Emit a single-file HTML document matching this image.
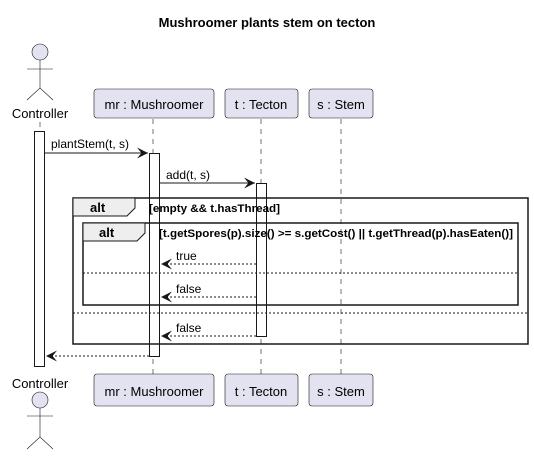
<!DOCTYPE html>
<html><head><style>body{margin:0;background:#fff}svg{display:block}</style></head><body>
<svg width="534" height="456" viewBox="0 0 534 456" xmlns="http://www.w3.org/2000/svg" font-family="Liberation Sans, sans-serif">
<defs><marker id="a" viewBox="0 0 10 10" refX="10" refY="5" markerWidth="11" markerHeight="11" markerUnits="userSpaceOnUse" orient="auto"><path d="M0,0 L10,5 L0,10 L4,5 Z" fill="#181818"/></marker></defs>
<text x="267" y="27" text-anchor="middle" font-size="13" font-weight="bold">Mushroomer plants stem on tecton</text>
<g stroke="#181818" stroke-width="0.6" stroke-dasharray="5,5">
<line x1="40" y1="122" x2="40" y2="372"/><line x1="153" y1="119" x2="153" y2="374"/><line x1="261" y1="119" x2="261" y2="374"/><line x1="341" y1="119" x2="341" y2="374"/></g>
<g fill="#e2e2f0" stroke="#181818" stroke-width="0.6">
<circle cx="40" cy="52" r="8"/><circle cx="40" cy="400" r="8"/></g>
<g stroke="#181818" stroke-width="0.6" fill="none">
<path d="M27,69 H53 M40,60 V88 M27,100 L40,88 L53,100"/>
<path d="M27,416 H53 M40,408 V437 M27,449 L40,437 L53,449"/></g>
<g fill="#e2e2f0" stroke="#181818" stroke-width="0.6">
<rect x="94" y="89" width="120" height="29" rx="3"/><rect x="225" y="89" width="73" height="29" rx="3"/><rect x="309" y="89" width="64" height="29" rx="3"/>
<rect x="94" y="374" width="120" height="32" rx="3"/><rect x="225" y="374" width="73" height="32" rx="3"/><rect x="309" y="374" width="64" height="32" rx="3"/></g>
<g font-size="13" text-anchor="middle" fill="#000">
<text x="40" y="118">Controller</text><text x="40" y="388">Controller</text>
<text x="154" y="109">mr : Mushroomer</text><text x="261" y="109">t : Tecton</text><text x="341" y="109">s : Stem</text>
<text x="154" y="396">mr : Mushroomer</text><text x="261" y="396">t : Tecton</text><text x="341" y="396">s : Stem</text></g>
<g fill="#fff" stroke="#181818" stroke-width="1">
<rect x="34.5" y="131.5" width="10" height="235"/><rect x="149.5" y="153.5" width="10" height="203"/><rect x="256.5" y="183.5" width="10" height="153"/></g>
<g fill="none" stroke="#181818" stroke-width="1.5">
<rect x="73" y="198" width="455" height="146"/><rect x="83" y="223" width="435" height="82"/></g>
<g fill="#eeeeee" stroke="#181818" stroke-width="1">
<path d="M73,198 H135 V208 L127,216 H73 Z"/><path d="M83,223 H145 V233 L137,241 H83 Z"/></g>
<g stroke="#181818" stroke-width="1" stroke-dasharray="2,2"><line x1="83" y1="273" x2="518" y2="273"/><line x1="73" y1="313" x2="528" y2="313"/></g>
<g font-size="13" font-weight="bold"><text x="90" y="212">alt</text><text x="99" y="237">alt</text></g>
<g font-size="11" font-weight="bold"><text x="149" y="212" textLength="131" lengthAdjust="spacingAndGlyphs">[empty &amp;&amp; t.hasThread]</text><text x="159" y="237" textLength="354" lengthAdjust="spacingAndGlyphs">[t.getSpores(p).size() &gt;= s.getCost() || t.getThread(p).hasEaten()]</text></g>
<g stroke="#181818" stroke-width="1" marker-end="url(#a)">
<line x1="44" y1="153" x2="148" y2="153"/><line x1="159" y1="183" x2="255" y2="183"/></g>
<g stroke="#181818" stroke-width="1" stroke-dasharray="2,2" marker-end="url(#a)">
<line x1="256" y1="264" x2="161" y2="264"/><line x1="256" y1="297" x2="161" y2="297"/><line x1="256" y1="336" x2="161" y2="336"/><line x1="149" y1="356" x2="46" y2="356"/></g>
<g font-size="12"><text x="51" y="148">plantStem(t, s)</text><text x="166" y="179">add(t, s)</text><text x="176" y="260">true</text><text x="176" y="293">false</text><text x="176" y="332">false</text></g>
</svg></body></html>
